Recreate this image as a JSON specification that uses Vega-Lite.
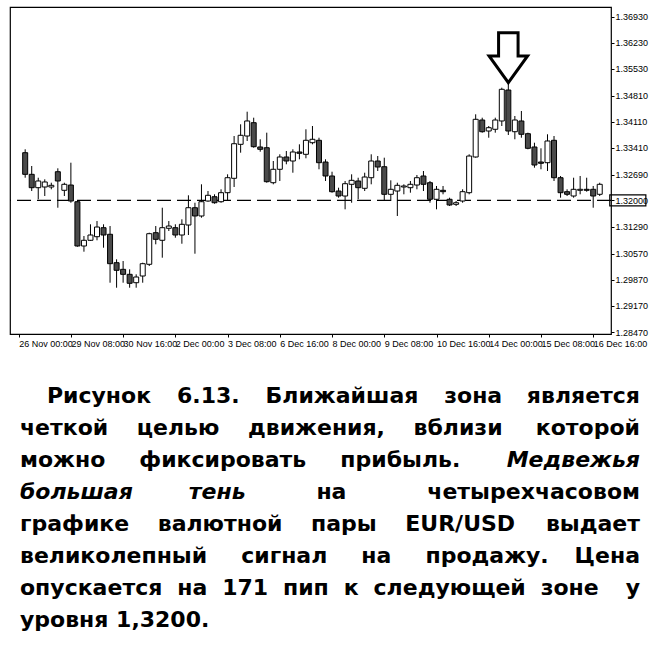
{
  "$schema": "https://vega.github.io/schema/vega-lite/v6.json",
  "background": "white",
  "padding": {"left": 8, "top": 6, "right": 0, "bottom": 0},
  "bounds": "flush",
  "spacing": 69,
  "config": {
    "view": {"stroke": null},
    "font": "Liberation Sans",
    "axisY": {"labelOverlap": false, "labelFlush": false},
    "axisX": {"labelOverlap": false, "labelFlush": false}
  },
  "vconcat": [
    {
      "width": 601,
      "height": 327,
      "view": {"stroke": "black", "strokeWidth": 1.2},
      "data": {
        "values": [
          {"i": 1, "o": 1.33281, "h": 1.33372, "l": 1.3261, "c": 1.32701},
          {"i": 2, "o": 1.32701, "h": 1.32924, "l": 1.32253, "c": 1.32342},
          {"i": 3, "o": 1.32342, "h": 1.3261, "l": 1.32031, "c": 1.32522},
          {"i": 4, "o": 1.32361, "h": 1.32567, "l": 1.32119, "c": 1.32495},
          {"i": 5, "o": 1.32361, "h": 1.32476, "l": 1.32299, "c": 1.32406},
          {"i": 6, "o": 1.32771, "h": 1.32862, "l": 1.31805, "c": 1.32522},
          {"i": 7, "o": 1.32272, "h": 1.32476, "l": 1.32119, "c": 1.32433},
          {"i": 8, "o": 1.32414, "h": 1.33013, "l": 1.31939, "c": 1.31985},
          {"i": 9, "o": 1.31966, "h": 1.31985, "l": 1.30759, "c": 1.30778},
          {"i": 10, "o": 1.30778, "h": 1.31046, "l": 1.30625, "c": 1.30931},
          {"i": 11, "o": 1.30931, "h": 1.3136, "l": 1.30912, "c": 1.31073},
          {"i": 12, "o": 1.31027, "h": 1.31448, "l": 1.30931, "c": 1.31287},
          {"i": 13, "o": 1.31269, "h": 1.3136, "l": 1.30732, "c": 1.31073},
          {"i": 14, "o": 1.31092, "h": 1.31314, "l": 1.29793, "c": 1.30303},
          {"i": 15, "o": 1.3033, "h": 1.30421, "l": 1.29659, "c": 1.30126},
          {"i": 16, "o": 1.30152, "h": 1.30375, "l": 1.29793, "c": 1.30018},
          {"i": 17, "o": 1.30018, "h": 1.30152, "l": 1.29659, "c": 1.29777},
          {"i": 18, "o": 1.29793, "h": 1.30018, "l": 1.29659, "c": 1.29946},
          {"i": 19, "o": 1.29973, "h": 1.3033, "l": 1.29793, "c": 1.30303},
          {"i": 20, "o": 1.30287, "h": 1.31135, "l": 1.30241, "c": 1.31108},
          {"i": 21, "o": 1.31135, "h": 1.31314, "l": 1.30823, "c": 1.30957},
          {"i": 22, "o": 1.30931, "h": 1.31805, "l": 1.30464, "c": 1.31269},
          {"i": 23, "o": 1.31253, "h": 1.31448, "l": 1.3118, "c": 1.31314},
          {"i": 24, "o": 1.31269, "h": 1.3136, "l": 1.31, "c": 1.31073},
          {"i": 25, "o": 1.31073, "h": 1.31494, "l": 1.30839, "c": 1.3136},
          {"i": 26, "o": 1.31341, "h": 1.32138, "l": 1.31073, "c": 1.31805},
          {"i": 27, "o": 1.31805, "h": 1.31939, "l": 1.30571, "c": 1.31583},
          {"i": 28, "o": 1.31583, "h": 1.32433, "l": 1.31537, "c": 1.31966},
          {"i": 29, "o": 1.31985, "h": 1.32253, "l": 1.31966, "c": 1.32138},
          {"i": 30, "o": 1.321, "h": 1.32165, "l": 1.31913, "c": 1.31939},
          {"i": 31, "o": 1.31966, "h": 1.32299, "l": 1.31939, "c": 1.32208},
          {"i": 32, "o": 1.32208, "h": 1.32701, "l": 1.31985, "c": 1.3261},
          {"i": 33, "o": 1.32594, "h": 1.33729, "l": 1.32361, "c": 1.33522},
          {"i": 34, "o": 1.33506, "h": 1.34043, "l": 1.33281, "c": 1.33748},
          {"i": 35, "o": 1.33729, "h": 1.34381, "l": 1.33595, "c": 1.34132},
          {"i": 36, "o": 1.34086, "h": 1.3422, "l": 1.33415, "c": 1.33442},
          {"i": 37, "o": 1.33434, "h": 1.33641, "l": 1.33308, "c": 1.33372},
          {"i": 38, "o": 1.33415, "h": 1.33818, "l": 1.32476, "c": 1.32503},
          {"i": 39, "o": 1.32476, "h": 1.33058, "l": 1.32433, "c": 1.32836},
          {"i": 40, "o": 1.32836, "h": 1.33238, "l": 1.32522, "c": 1.33166},
          {"i": 41, "o": 1.33166, "h": 1.33327, "l": 1.3297, "c": 1.33058},
          {"i": 42, "o": 1.33058, "h": 1.33372, "l": 1.32744, "c": 1.333},
          {"i": 43, "o": 1.333, "h": 1.33506, "l": 1.33104, "c": 1.33265},
          {"i": 44, "o": 1.33238, "h": 1.33909, "l": 1.33131, "c": 1.33614},
          {"i": 45, "o": 1.33549, "h": 1.33997, "l": 1.33506, "c": 1.33641},
          {"i": 46, "o": 1.33614, "h": 1.33683, "l": 1.32836, "c": 1.33013},
          {"i": 47, "o": 1.33031, "h": 1.33104, "l": 1.32522, "c": 1.32656},
          {"i": 48, "o": 1.32656, "h": 1.32771, "l": 1.32208, "c": 1.32235},
          {"i": 49, "o": 1.32253, "h": 1.32342, "l": 1.32074, "c": 1.32119},
          {"i": 50, "o": 1.32119, "h": 1.32522, "l": 1.31762, "c": 1.32449},
          {"i": 51, "o": 1.32433, "h": 1.32701, "l": 1.31939, "c": 1.3254},
          {"i": 52, "o": 1.32522, "h": 1.3261, "l": 1.32031, "c": 1.32342},
          {"i": 53, "o": 1.32326, "h": 1.32744, "l": 1.32253, "c": 1.32629},
          {"i": 54, "o": 1.3261, "h": 1.33238, "l": 1.32433, "c": 1.33058},
          {"i": 55, "o": 1.33058, "h": 1.33192, "l": 1.3279, "c": 1.32897},
          {"i": 56, "o": 1.32905, "h": 1.33147, "l": 1.31985, "c": 1.32165},
          {"i": 57, "o": 1.32165, "h": 1.3254, "l": 1.31985, "c": 1.32299},
          {"i": 58, "o": 1.32253, "h": 1.32476, "l": 1.31583, "c": 1.32406},
          {"i": 59, "o": 1.32361, "h": 1.32433, "l": 1.32165, "c": 1.32388},
          {"i": 60, "o": 1.32342, "h": 1.32522, "l": 1.32208, "c": 1.32433},
          {"i": 61, "o": 1.32414, "h": 1.32683, "l": 1.32299, "c": 1.3261},
          {"i": 62, "o": 1.32656, "h": 1.3279, "l": 1.32253, "c": 1.32433},
          {"i": 63, "o": 1.32476, "h": 1.32522, "l": 1.31939, "c": 1.32031},
          {"i": 64, "o": 1.32031, "h": 1.32388, "l": 1.31762, "c": 1.32299},
          {"i": 65, "o": 1.32272, "h": 1.32388, "l": 1.32165, "c": 1.32235},
          {"i": 66, "o": 1.32031, "h": 1.32074, "l": 1.31851, "c": 1.31878},
          {"i": 67, "o": 1.31896, "h": 1.31985, "l": 1.31851, "c": 1.31939},
          {"i": 68, "o": 1.31985, "h": 1.32299, "l": 1.31939, "c": 1.32235},
          {"i": 69, "o": 1.32208, "h": 1.33238, "l": 1.32165, "c": 1.33192},
          {"i": 70, "o": 1.33166, "h": 1.34311, "l": 1.33147, "c": 1.34177},
          {"i": 71, "o": 1.34158, "h": 1.3422, "l": 1.33818, "c": 1.33844},
          {"i": 72, "o": 1.33863, "h": 1.33997, "l": 1.33683, "c": 1.33952},
          {"i": 73, "o": 1.33909, "h": 1.3422, "l": 1.33818, "c": 1.34158},
          {"i": 74, "o": 1.34132, "h": 1.35025, "l": 1.33997, "c": 1.34982},
          {"i": 75, "o": 1.34963, "h": 1.35159, "l": 1.33756, "c": 1.33863},
          {"i": 76, "o": 1.33844, "h": 1.34266, "l": 1.33641, "c": 1.34158},
          {"i": 77, "o": 1.34132, "h": 1.344, "l": 1.33683, "c": 1.33775},
          {"i": 78, "o": 1.33791, "h": 1.33818, "l": 1.33372, "c": 1.33399},
          {"i": 79, "o": 1.33434, "h": 1.33549, "l": 1.32879, "c": 1.32951},
          {"i": 80, "o": 1.33031, "h": 1.33399, "l": 1.32836, "c": 1.32997},
          {"i": 81, "o": 1.33013, "h": 1.33775, "l": 1.3279, "c": 1.33595},
          {"i": 82, "o": 1.33614, "h": 1.33729, "l": 1.32522, "c": 1.3261},
          {"i": 83, "o": 1.3261, "h": 1.32656, "l": 1.32074, "c": 1.32208},
          {"i": 84, "o": 1.32235, "h": 1.32299, "l": 1.32119, "c": 1.32165},
          {"i": 85, "o": 1.32119, "h": 1.3261, "l": 1.32074, "c": 1.32299},
          {"i": 86, "o": 1.32272, "h": 1.32656, "l": 1.32165, "c": 1.32299},
          {"i": 87, "o": 1.32299, "h": 1.3261, "l": 1.32235, "c": 1.32272},
          {"i": 88, "o": 1.32299, "h": 1.32388, "l": 1.31805, "c": 1.32119},
          {"i": 89, "o": 1.32165, "h": 1.32476, "l": 1.32119, "c": 1.32433}
        ]
      },
      "layer": [
        {
          "mark": {"type": "rule", "color": "black", "strokeWidth": 1},
          "encoding": {
            "x": {
              "field": "i",
              "type": "quantitative",
              "title": null,
              "scale": {"domain": [-0.56, 89.96], "nice": false, "zero": false},
              "axis": {
                "values": [0, 8, 16, 24, 32, 40, 48, 56, 64, 72, 80, 88],
                "tickCount": 30,
                "labelExpr": "['26 Nov 00:00','29 Nov 08:00','30 Nov 16:00','2 Dec 00:00','3 Dec 08:00','6 Dec 16:00','8 Dec 00:00','9 Dec 08:00','10 Dec 16:00','14 Dec 00:00','15 Dec 08:00','16 Dec 16:00'][round(datum.value / 8)]",
                "domain": false,
                "grid": false,
                "tickSize": 3,
                "tickColor": "black",
                "labelColor": "black",
                "labelFont": "Liberation Sans",
                "labelFontSize": 9,
                "labelAlign": "left",
                "labelPadding": 2,
                "labelOverlap": false,
                "labelFlush": false
              }
            },
            "y": {
              "field": "l",
              "type": "quantitative",
              "title": null,
              "scale": {"domain": [1.28417, 1.3719], "nice": false, "zero": false},
              "axis": {
                "orient": "right",
                "values": [1.2847, 1.2917, 1.2987, 1.3057, 1.3129, 1.32, 1.3269, 1.3341, 1.3411, 1.3481, 1.3553, 1.3623, 1.3693],
                "tickCount": 30,
                "format": ".5f",
                "domain": false,
                "grid": false,
                "tickSize": 3,
                "tickColor": "black",
                "labelColor": "black",
                "labelFont": "Liberation Sans",
                "labelFontSize": 9,
                "labelPadding": 1,
                "labelOverlap": false,
                "labelFlush": false
              }
            },
            "y2": {"field": "h"}
          }
        },
        {
          "data": {"values": [{"level": 1.32}]},
          "mark": {"type": "rule", "color": "black", "strokeWidth": 1.2, "strokeDash": [14, 6]},
          "encoding": {"y": {"field": "level", "type": "quantitative"}}
        },
        {
          "mark": {"type": "bar", "width": 5, "stroke": "black", "strokeWidth": 1},
          "encoding": {
            "x": {"field": "i", "type": "quantitative"},
            "y": {"field": "o", "type": "quantitative"},
            "y2": {"field": "c"},
            "fill": {
              "condition": {"test": "datum.c < datum.o", "value": "#4a4a4a"},
              "value": "white"
            }
          }
        },
        {
          "data": {"values": [{"i": 75, "p": 1.3583}]},
          "mark": {
            "type": "point",
            "shape": "M-0.39,-1L0.39,-1L0.39,-0.07L0.77,-0.07L0,1L-0.77,-0.07L-0.39,-0.07Z",
            "size": 2500,
            "filled": false,
            "stroke": "black",
            "strokeWidth": 3,
            "opacity": 1
          },
          "encoding": {
            "x": {"field": "i", "type": "quantitative"},
            "y": {"field": "p", "type": "quantitative"}
          }
        },
        {
          "data": {"values": [{"p": 1.32}]},
          "mark": {
            "type": "point",
            "shape": "M-1.64,-0.5L1.64,-0.5L1.64,0.5L-1.64,0.5Z",
            "size": 484,
            "filled": false,
            "stroke": "black",
            "strokeWidth": 1.2,
            "opacity": 1
          },
          "encoding": {
            "x": {"datum": 93.3},
            "y": {"field": "p", "type": "quantitative"}
          }
        }
      ]
    },
    {
      "width": 630,
      "height": 224,
      "data": {
        "values": [
          {"line": 1, "part": "first", "em": false, "text": "Рисунок \u2002\u20046.13. \u2002\u2004Ближайшая \u2002\u2004зона"},
          {"line": 1, "part": "end", "em": false, "text": "является"},
          {"line": 2, "part": "start", "em": false, "text": "четкой \u2002\u2005\u2009целью \u2002\u2005\u2009движения, \u2002\u2005\u2009вблизи"},
          {"line": 2, "part": "end", "em": false, "text": "которой"},
          {"line": 3, "part": "start", "em": false, "text": "можно \u2002\u2002\u2009фиксировать \u2002\u2002\u2009прибыль."},
          {"line": 3, "part": "end", "em": true, "text": "Медвежья"},
          {"line": 4, "part": "start", "em": true, "text": "большая \u2002\u2002\u2002\u2002\u2009тень"},
          {"line": 4, "part": "end", "em": false, "text": "на \u2002\u2002\u2002\u2002\u2002\u2002\u2004четырехчасовом"},
          {"line": 5, "part": "start", "em": false, "text": "графике \u2002\u2005\u2009валютной \u2002\u2005\u2009пары \u2002\u2005\u2009EUR/USD"},
          {"line": 5, "part": "end", "em": false, "text": "выдает"},
          {"line": 6, "part": "start", "em": false, "text": "великолепный \u2002\u2002\u2009сигнал \u2002\u2002\u2009на \u2002\u2002\u2009продажу."},
          {"line": 6, "part": "end", "em": false, "text": "Цена"},
          {"line": 7, "part": "start", "em": false, "text": "опускается \u2004на \u2004171 \u2004пип \u2004к \u2004следующей \u2004зоне"},
          {"line": 7, "part": "end", "em": false, "text": "у"},
          {"line": 8, "part": "start", "em": false, "text": "уровня 1,3200."}
        ]
      },
      "encoding": {
        "y": {"field": "line", "type": "quantitative", "scale": {"domain": [1, 8], "reverse": true, "nice": false, "zero": false}, "axis": null},
        "text": {"field": "text"}
      },
      "layer": [
        {
          "transform": [{"filter": "datum.part == 'start' && !datum.em"}],
          "mark": {"type": "text", "align": "left", "baseline": "alphabetic", "font": "DejaVu Sans", "fontSize": 22, "fontWeight": "bold", "color": "black"},
          "encoding": {"x": {"datum": 0, "type": "quantitative", "scale": {"domain": [-0.0161, 1], "nice": false, "zero": false}, "axis": null}}
        },
        {
          "transform": [{"filter": "datum.part == 'first'"}],
          "mark": {"type": "text", "align": "left", "baseline": "alphabetic", "font": "DejaVu Sans", "fontSize": 22, "fontWeight": "bold", "color": "black"},
          "encoding": {"x": {"datum": 0.0435, "type": "quantitative"}}
        },
        {
          "transform": [{"filter": "datum.part == 'end' && !datum.em"}],
          "mark": {"type": "text", "align": "right", "baseline": "alphabetic", "font": "DejaVu Sans", "fontSize": 22, "fontWeight": "bold", "color": "black"},
          "encoding": {"x": {"datum": 1, "type": "quantitative"}}
        },
        {
          "transform": [{"filter": "datum.part == 'start' && datum.em"}],
          "mark": {"type": "text", "align": "left", "baseline": "alphabetic", "font": "DejaVu Sans", "fontSize": 22, "fontWeight": "bold", "fontStyle": "italic", "color": "black"},
          "encoding": {"x": {"datum": 0, "type": "quantitative"}}
        },
        {
          "transform": [{"filter": "datum.part == 'end' && datum.em"}],
          "mark": {"type": "text", "align": "right", "baseline": "alphabetic", "font": "DejaVu Sans", "fontSize": 22, "fontWeight": "bold", "fontStyle": "italic", "color": "black"},
          "encoding": {"x": {"datum": 1, "type": "quantitative"}}
        }
      ]
    }
  ]
}
